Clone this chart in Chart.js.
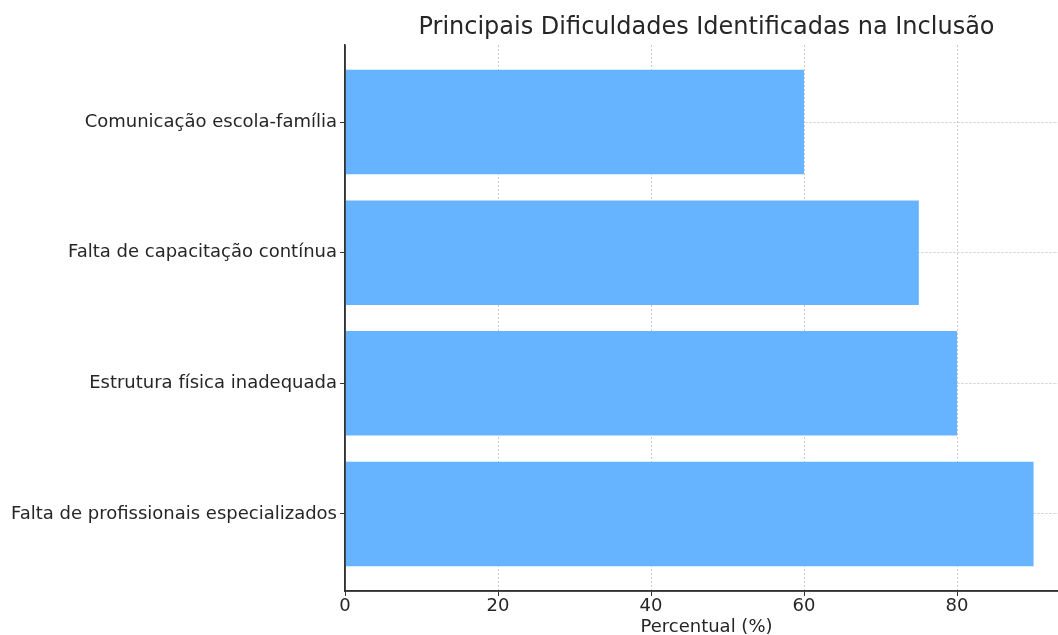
<!DOCTYPE html>
<html lang="pt">
<head>
<meta charset="utf-8">
<title>Principais Dificuldades Identificadas na Inclusão</title>
<script src="https://cdn.jsdelivr.net/npm/chart.js@4.4.1/dist/chart.umd.min.js"></script>
<style>
  html, body { margin: 0; padding: 0; background: #ffffff; }
  #wrap { width: 1058px; height: 635px; overflow: hidden; position: relative; }
  canvas { display: block; }
</style>
</head>
<body>
<div id="wrap"><canvas id="chart" width="1072" height="635"></canvas></div>
<script>
// Categories listed bottom to top, with their percentages
const categories = [
  'Falta de profissionais especializados',
  'Estrutura física inadequada',
  'Falta de capacitação contínua',
  'Comunicação escola-família'
];
const percentages = [90, 80, 75, 60];
const xTickValues = [0, 20, 40, 60, 80];

const TEXT = '#262626';
const GRID = 'rgba(190,190,190,0.8)';
const SPINE = '#333333';
const FONT = 'DejaVu Sans';

const points = categories.map((c, i) => ({ x: percentages[i], y: i }));

// Left and bottom axis lines redrawn above the bars
const spines = {
  id: 'spines',
  afterDatasetsDraw(chart) {
    const { ctx, chartArea: a } = chart;
    ctx.save();
    ctx.strokeStyle = SPINE;
    ctx.lineWidth = 1.5;
    ctx.beginPath();
    ctx.moveTo(a.left, a.top);
    ctx.lineTo(a.left, a.bottom);
    ctx.lineTo(a.right, a.bottom);
    ctx.stroke();
    ctx.restore();
  }
};

new Chart(document.getElementById('chart'), {
  type: 'bar',
  data: {
    datasets: [{
      data: points,
      backgroundColor: '#66b3ff',
      borderWidth: 0,
      barPercentage: 0.8,
      categoryPercentage: 1.0
    }]
  },
  plugins: [spines],
  options: {
    indexAxis: 'y',
    responsive: false,
    animation: false,
    layout: { padding: { top: 0, right: 4, bottom: 0, left: 0 } },
    plugins: {
      legend: { display: false },
      tooltip: { enabled: false },
      title: {
        display: true,
        fullSize: false,
        text: 'Principais Dificuldades Identificadas na Inclusão',
        color: TEXT,
        font: { family: FONT, size: 24, weight: 'normal', lineHeight: 1.2 },
        padding: { top: 13.6, bottom: 2.6 }
      }
    },
    scales: {
      x: {
        type: 'linear',
        min: 0,
        max: 94.5,
        afterBuildTicks: s => { s.ticks = xTickValues.map(v => ({ value: v })); },
        afterFit: s => { s.height = 44; },
        ticks: {
          color: TEXT,
          font: { family: FONT, size: 18 },
          padding: 0,
          maxRotation: 0
        },
        grid: {
          color: GRID,
          lineWidth: 1,
          drawTicks: true,
          tickLength: 5,
          tickColor: SPINE,
          tickWidth: 1,
          tickBorderDash: []
        },
        border: { display: true, color: SPINE, width: 1.5, dash: [2, 2] },
        title: {
          display: true,
          text: 'Percentual (%)',
          color: TEXT,
          font: { family: FONT, size: 18, lineHeight: 0.8 },
          padding: { top: 0, bottom: 0 }
        }
      },
      y: {
        type: 'linear',
        min: -0.59,
        max: 3.59,
        offset: false,
        afterBuildTicks: s => { s.ticks = categories.map((c, i) => ({ value: i })); },
        afterFit: s => { s.width = 345; },
        ticks: {
          color: TEXT,
          font: { family: FONT, size: 18 },
          padding: 3,
          callback: v => categories[v]
        },
        grid: {
          offset: false,
          color: GRID,
          lineWidth: 1,
          drawTicks: true,
          tickLength: 5,
          tickColor: SPINE,
          tickWidth: 1,
          tickBorderDash: []
        },
        border: { display: true, color: SPINE, width: 1.5, dash: [2, 2] }
      }
    }
  }
});
</script>
</body>
</html>
